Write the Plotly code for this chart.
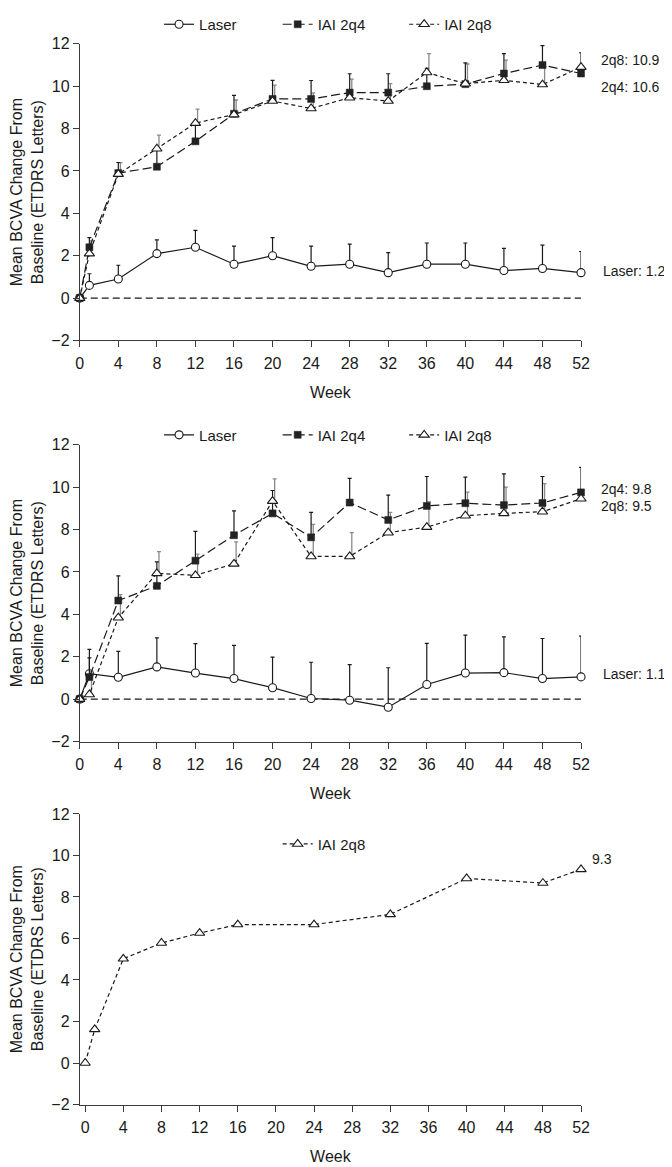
import plotly.graph_objects as go

# ---------------- data ----------------
weeks = [0, 1, 4, 8, 12, 16, 20, 24, 28, 32, 36, 40, 44, 48, 52]
x_ticks = [0, 4, 8, 12, 16, 20, 24, 28, 32, 36, 40, 44, 48, 52]
y_ticks = [-2, 0, 2, 4, 6, 8, 10, 12]

# Panel A
laser_a = [0, 0.6, 0.9, 2.1, 2.4, 1.6, 2.0, 1.5, 1.6, 1.2, 1.6, 1.6, 1.3, 1.4, 1.2]
laser_a_err = [0, 0.55, 0.65, 0.65, 0.8, 0.85, 0.85, 0.95, 0.95, 0.95, 1.0, 1.0, 1.05, 1.1, 1.0]
q4_a = [0, 2.4, 5.9, 6.2, 7.4, 8.7, 9.4, 9.4, 9.7, 9.7, 10.0, 10.1, 10.6, 11.0, 10.6]
q4_a_err = [0, 0.45, 0.5, 0.9, 0.85, 0.87, 0.88, 0.87, 0.89, 0.89, 0.85, 1.0, 0.94, 0.92, 0.98]
q8_a = [0, 2.1, 5.85, 7.05, 8.26, 8.66, 9.3, 8.95, 9.46, 9.3, 10.65, 10.12, 10.28, 10.08, 10.9]
q8_a_err = [0, 0.6, 0.54, 0.64, 0.66, 0.69, 0.75, 0.74, 0.88, 0.82, 0.89, 0.93, 0.95, 0.85, 0.95]

# Panel B
laser_b = [0, 1.2, 1.03, 1.52, 1.23, 0.97, 0.54, 0.03, -0.05, -0.38, 0.69, 1.23, 1.25, 0.97, 1.05]
laser_b_err = [0, 1.15, 1.22, 1.37, 1.39, 1.57, 1.44, 1.71, 1.68, 1.86, 1.94, 1.79, 1.69, 1.89, 1.92]
q4_b = [0, 1.04, 4.65, 5.34, 6.53, 7.73, 8.76, 7.63, 9.27, 8.45, 9.11, 9.24, 9.15, 9.25, 9.75]
q4_b_err = [0, 0.91, 1.16, 1.13, 1.38, 1.15, 1.08, 1.18, 1.14, 1.17, 1.39, 1.23, 1.47, 1.25, 1.18]
q8_b = [0, 0.22, 3.84, 5.93, 5.84, 6.38, 9.34, 6.73, 6.73, 7.85, 8.11, 8.65, 8.76, 8.84, 9.45]
q8_b_err = [0, 1.1, 1.09, 1.03, 1.0, 1.04, 1.05, 1.51, 1.12, 0.96, 1.19, 1.11, 1.24, 1.32, 1.43]

# Panel C
weeks_c = [0, 1, 4, 8, 12, 16, 24, 32, 40, 48, 52]
q8_c = [0, 1.62, 5.02, 5.78, 6.26, 6.67, 6.67, 7.16, 8.89, 8.67, 9.33]

# end labels
labels_a = ["2q8: 10.9", "2q4: 10.6", "Laser: 1.2"]
labels_b = ["2q4: 9.8", "2q8: 9.5", "Laser: 1.1"]
labels_c = ["9.3"]

# ---------------- layout helpers ----------------
# the page body has an 8px default margin, so the figure is drawn 8px smaller
OFF = 8
W, H = 672 - OFF, 1167 - OFF
FONT = "Liberation Sans, Arial, Helvetica, sans-serif"
INK = "#1a1a1a"
AX = "#3a3a3a"
GRAY = "#8a8a8a"


def fx(p):
    return (p - OFF) / W


def fy(p):
    return 1 - (p - OFF) / H


fig = go.Figure()

ERR_OFF = 0.22  # small horizontal offset (weeks) of the 2q8 error bars


def add_panel(n, wk, laser, laser_err, q4, q4_err, q8, q8_err, legs):
    xa = "x" if n == 1 else f"x{n}"
    ya = "y" if n == 1 else f"y{n}"
    zeros = [0] * len(wk)
    if laser is not None:
        fig.add_trace(go.Scatter(
            x=wk, y=laser, name="Laser", mode="lines+markers",
            line=dict(color=INK, width=1.2),
            marker=dict(symbol="circle", size=8, color="white", line=dict(color=INK, width=1.1)),
            error_y=dict(type="data", array=laser_err, arrayminus=zeros, symmetric=False,
                         color=INK, thickness=1.2, width=2),
            xaxis=xa, yaxis=ya, cliponaxis=False, legend=legs[0]))
    if q8_err is not None:
        fig.add_trace(go.Scatter(
            x=[w + ERR_OFF for w in wk], y=q8, mode="markers", showlegend=False,
            marker=dict(size=1, opacity=0),
            error_y=dict(type="data", array=q8_err, arrayminus=zeros, symmetric=False,
                         color=GRAY, thickness=1.3, width=2),
            xaxis=xa, yaxis=ya, cliponaxis=False, hoverinfo="skip"))
    if q4 is not None:
        fig.add_trace(go.Scatter(
            x=wk, y=q4, name="IAI 2q4", mode="lines+markers",
            line=dict(color=INK, width=1.2, dash="9px,4px"),
            marker=dict(symbol="square", size=7, color="#222222", line=dict(color="#222222", width=0.5)),
            error_y=dict(type="data", array=q4_err, arrayminus=zeros, symmetric=False,
                         color=INK, thickness=1.2, width=2),
            xaxis=xa, yaxis=ya, cliponaxis=False, legend=legs[1]))
    fig.add_trace(go.Scatter(
        x=wk, y=q8, name="IAI 2q8", mode="lines+markers",
        line=dict(color=INK, width=1.2, dash="4px,3px"),
        marker=dict(symbol="triangle-up", size=9, color="white", line=dict(color=INK, width=1.1)),
        xaxis=xa, yaxis=ya, cliponaxis=False, legend=legs[2]))


add_panel(1, weeks, laser_a, laser_a_err, q4_a, q4_a_err, q8_a, q8_a_err,
          ["legend", "legend2", "legend3"])
add_panel(2, weeks, laser_b, laser_b_err, q4_b, q4_b_err, q8_b, q8_b_err,
          ["legend4", "legend5", "legend6"])
add_panel(3, weeks_c, None, None, None, None, q8_c, None, [None, None, "legend7"])

# zero reference lines (panels A and B)
for xr, yr in (("x", "y"), ("x2", "y2")):
    fig.add_shape(type="line", xref=xr, yref=yr, x0=weeks[0], x1=weeks[-1], y0=0, y1=0,
                  line=dict(color=INK, width=1.1, dash="7px,4px"), layer="below")

# axes
ytitle = "Mean BCVA Change From<br>Baseline (ETDRS Letters)"
x_dom = [fx(77.1), fx(588.4)]
panels = [
    # (x range, y-domain bottom px, top px) in page pixels
    ([0, 52], 330.7, 27.3),
    ([0, 52], 741.0, 437.3),
    ([-0.57, 52], 1112.3, 815.0),
]
for i, (xr, yb, yt) in enumerate(panels, start=1):
    sfx = "" if i == 1 else str(i)
    common = dict(showline=True, linecolor=AX, linewidth=1, ticks="outside", ticklen=6,
                  tickcolor=AX, tickwidth=1, showgrid=False, zeroline=False,
                  tickfont=dict(family=FONT, size=16, color=INK))
    fig.layout["xaxis" + sfx] = dict(
        domain=x_dom, range=xr, anchor="y" + sfx, tickvals=x_ticks, ticklabelstandoff=2,
        title=dict(text="Week", font=dict(family=FONT, size=16, color=INK), standoff=16),
        **common)
    fig.layout["yaxis" + sfx] = dict(
        domain=[fy(yb), fy(yt)], range=[-2, 12], anchor="x" + sfx, tickvals=y_ticks,
        title=dict(text=ytitle, font=dict(family=FONT, size=16, color=INK), standoff=6),
        **common)

# legends (one entry each, positioned like the reference)
leg_pos = {
    "legend": (158, 7.5), "legend2": (279, 7.5), "legend3": (408, 7.5),
    "legend4": (158, 427.5), "legend5": (279, 427.5), "legend6": (408, 427.5),
    "legend7": (279, 846),
}
for k, (lx, ly) in leg_pos.items():
    fig.layout[k] = dict(x=fx(lx), y=fy(ly), xanchor="left", yanchor="middle",
                         xref="paper", yref="paper", orientation="h",
                         bgcolor="rgba(0,0,0,0)", borderwidth=0,
                         font=dict(family=FONT, size=15, color=INK))

# end-of-line value labels
ann_specs = [
    (labels_a[0], 606.5, 43.3), (labels_a[1], 606.5, 71.0), (labels_a[2], 608.5, 260.0),
    (labels_b[0], 606.5, 482.3), (labels_b[1], 606.5, 500.0), (labels_b[2], 608.5, 671.7),
    (labels_c[0], 598.0, 861.0),
]
for txt, ax_, ay_ in ann_specs:
    fig.add_annotation(text=txt, x=fx(ax_), y=fy(ay_), xref="paper", yref="paper",
                       xanchor="left", yanchor="middle", showarrow=False,
                       font=dict(family=FONT, size=14, color=INK))

fig.update_layout(width=W, height=H, autosize=False,
                  margin=dict(l=0, r=0, t=0, b=0),
                  paper_bgcolor="white", plot_bgcolor="white",
                  font=dict(family=FONT, size=16, color=INK))

fig.write_html("out.html")
